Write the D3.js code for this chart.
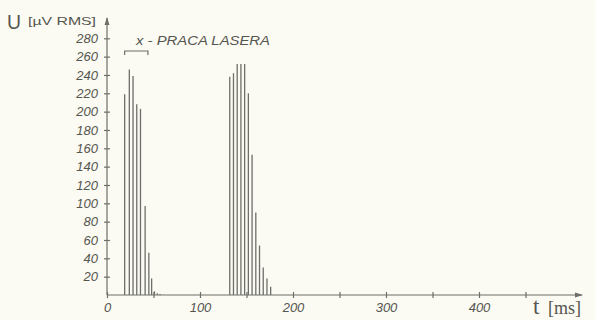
<!DOCTYPE html>
<html>
<head>
<meta charset="utf-8">
<script src="https://cdn.jsdelivr.net/npm/d3@7"></script>
<style>
  html, body { margin: 0; padding: 0; background: #fbfbf3; }
  svg { display: block; }
</style>
</head>
<body>
<svg id="chart" width="595" height="320"></svg>
<script>
// Pulse bursts: RMS voltage sampled over time
const burst1Times  = [19, 24, 28, 32, 36, 41, 45, 48, 51, 54, 57];
const burst1Values = [219, 246, 239, 208, 203, 97, 46, 18, 4, 2, 1];
const burst2Times  = [132, 136, 140, 144, 148, 152, 156, 160, 164, 168, 172, 176];
const burst2Values = [238, 242, 252, 252, 252, 220, 153, 90, 54, 30, 18, 9];

const yTickValues = [20, 40, 60, 80, 100, 120, 140, 160, 180, 200, 220, 240, 260, 280];
const xTickValues = [0, 50, 100, 150, 200, 250, 300, 350, 400, 450];
const xLabelValues = [0, 100, 200, 300, 400];
const laserSpan = [19, 44];
const laserLabel = "x - PRACA LASERA";

const ink = "#6e6e6a";
const textInk = "#55554f";

const svg = d3.select("#chart");
const x = d3.scaleLinear().domain([0, 100]).range([107, 200]);
const y = d3.scaleLinear().domain([0, 280]).range([295, 38.3]);

// axis lines with arrowheads
svg.append("line").attr("x1", x(0)).attr("x2", 582).attr("y1", y(0)).attr("y2", y(0))
  .attr("stroke", ink).attr("stroke-width", 1.2);
svg.append("path").attr("d", `M583,${y(0)} l-8,-2.5 l0,5 z`).attr("fill", ink);
svg.append("line").attr("x1", x(0)).attr("x2", x(0)).attr("y1", y(0)).attr("y2", 18)
  .attr("stroke", ink).attr("stroke-width", 1.2);
svg.append("path").attr("d", `M${x(0)},17 l-2.5,8 l5,0 z`).attr("fill", ink);

// y ticks (crossing) and labels
const yAxis = d3.axisLeft(y).tickValues(yTickValues).tickSize(0).tickPadding(0);
const gy = svg.append("g").attr("transform", `translate(${x(0)},0)`).call(yAxis);
gy.select(".domain").remove();
gy.selectAll(".tick line").attr("x1", -3).attr("x2", 3).attr("stroke", ink).attr("stroke-width", 1.2);
gy.selectAll(".tick text")
  .attr("x", -9)
  .attr("fill", textInk)
  .attr("font-family", "Liberation Sans, Arial, sans-serif")
  .attr("font-style", "italic")
  .attr("font-size", 13);

// x ticks (crossing) and labels
const xAxis = d3.axisBottom(x).tickValues(xTickValues).tickSize(0).tickPadding(0)
  .tickFormat(d => xLabelValues.includes(d) ? d : "");
const gx = svg.append("g").attr("transform", `translate(0,${y(0)})`).call(xAxis);
gx.select(".domain").remove();
gx.selectAll(".tick line").attr("y1", -3).attr("y2", 3).attr("stroke", ink).attr("stroke-width", 1.2);
gx.selectAll(".tick text")
  .attr("y", 8)
  .attr("fill", textInk)
  .attr("font-family", "Liberation Sans, Arial, sans-serif")
  .attr("font-style", "italic")
  .attr("font-size", 13);

// bars drawn as thin vertical strokes
const drawBurst = (times, values) => {
  svg.append("g").selectAll("line")
    .data(times.map((t, i) => ({ t, v: values[i] })))
    .join("line")
    .attr("x1", d => x(d.t)).attr("x2", d => x(d.t))
    .attr("y1", y(0)).attr("y2", d => y(d.v))
    .attr("stroke", ink).attr("stroke-width", 1.3);
};
drawBurst(burst1Times, burst1Values);
drawBurst(burst2Times, burst2Values);

// laser-on bracket and annotation
const bx0 = x(laserSpan[0]), bx1 = x(laserSpan[1]);
svg.append("path")
  .attr("d", `M${bx0},55 L${bx0},51 L${bx1},51 L${bx1},55`)
  .attr("fill", "none").attr("stroke", ink).attr("stroke-width", 1.2);
svg.append("text")
  .attr("x", 136).attr("y", 45)
  .attr("fill", textInk)
  .attr("font-family", "Liberation Sans, Arial, sans-serif")
  .attr("font-style", "italic")
  .attr("font-size", 12)
  .attr("textLength", 134)
  .attr("lengthAdjust", "spacingAndGlyphs")
  .text(laserLabel);

// axis titles
svg.append("text")
  .attr("x", 7).attr("y", 29)
  .attr("fill", textInk)
  .attr("font-family", "Liberation Sans, Arial, sans-serif")
  .attr("font-size", 21)
  .attr("textLength", 14)
  .attr("lengthAdjust", "spacingAndGlyphs")
  .text("U");
svg.append("text")
  .attr("x", 28).attr("y", 25)
  .attr("fill", textInk)
  .attr("font-family", "Liberation Sans, Arial, sans-serif")
  .attr("font-size", 10.5)
  .attr("textLength", 68)
  .attr("lengthAdjust", "spacingAndGlyphs")
  .text("[µV RMS]");
svg.append("text")
  .attr("x", 533).attr("y", 314)
  .attr("fill", textInk)
  .attr("font-family", "Liberation Serif, Times New Roman, serif")
  .attr("font-size", 23)
  .text("t");
svg.append("text")
  .attr("x", 548).attr("y", 314)
  .attr("fill", textInk)
  .attr("font-family", "Liberation Serif, Times New Roman, serif")
  .attr("font-size", 18)
  .text("[ms]");
</script>
</body>
</html>
